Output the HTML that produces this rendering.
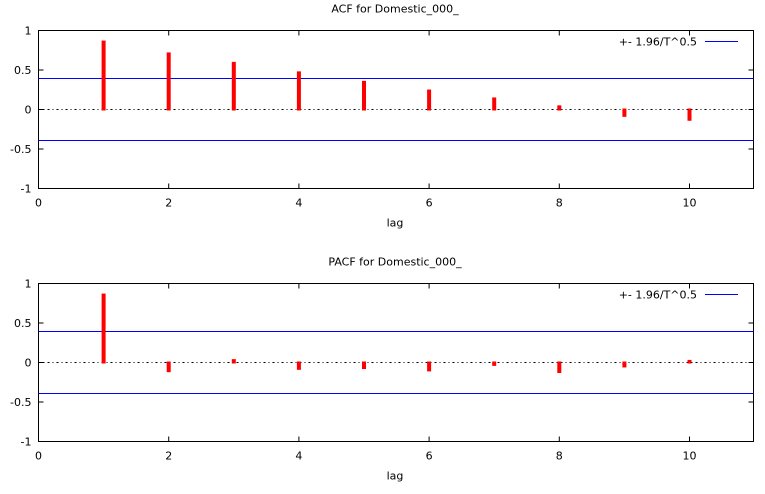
<!DOCTYPE html>
<html><head><meta charset="utf-8"><style>
body{margin:0;background:#fff}
svg text{font-family:"DejaVu Sans","Liberation Sans",sans-serif;font-size:11px;fill:#000}
</style></head><body>
<svg id="c" width="765" height="489" xmlns="http://www.w3.org/2000/svg"></svg>
<script>
const lags=[1,2,3,4,5,6,7,8,9,10];
const acfValues=[0.86,0.71,0.59,0.47,0.35,0.24,0.14,0.04,-0.08,-0.13];
const pacfValues=[0.86,-0.11,0.03,-0.08,-0.07,-0.1,-0.03,-0.12,-0.05,0.02];
const band=0.392;
const xTicks=[0,2,4,6,8,10];
const yTicks=[1,0.5,0,-0.5,-1];
const yTickLabels=["1","0.5","0","-0.5","-1"];
const svg=document.getElementById('c');
const NS="http://www.w3.org/2000/svg";
function el(t,a,txt){const e=document.createElementNS(NS,t);for(const k in a)e.setAttribute(k,a[k]);if(txt!==undefined)e.textContent=txt;svg.appendChild(e);return e;}
const L=38.5,R=753.5,xs=65.1;
function X(v){return L+v*xs;}
function panel(top,bottom,vals,title,prefix){
  const Y=v=>(top+bottom)/2-v*(bottom-top)/2;
  let e;
  e=el('text',{x:395,y:top-18,'text-anchor':'middle'},title);
  
  
  e=el('rect',{x:L,y:top,width:R-L,height:bottom-top,fill:'none',stroke:'#000','stroke-width':1});
  
  
  yTicks.forEach((t,i)=>{
    el('line',{x1:L,x2:L+5,y1:Y(t),y2:Y(t),stroke:'#000'});
    el('line',{x1:R-5,x2:R,y1:Y(t),y2:Y(t),stroke:'#000'});
    e=el('text',{x:L-7,y:Y(t)+4,'text-anchor':'end'},yTickLabels[i]);
    
    
  });
  xTicks.forEach(t=>{
    el('line',{x1:X(t),x2:X(t),y1:top,y2:top+5,stroke:'#000'});
    el('line',{x1:X(t),x2:X(t),y1:bottom,y2:bottom-5,stroke:'#000'});
    e=el('text',{x:X(t),y:bottom+18,'text-anchor':'middle'},String(t));
    
    
  });
  e=el('text',{x:395,y:bottom+38,'text-anchor':'middle'},'lag');
  
  
  e=el('line',{x1:L,x2:R,y1:Y(0),y2:Y(0),stroke:'#000','stroke-dasharray':'2,3,1,3'});
  
  
  [band,-band].forEach(b=>{
    e=el('line',{x1:L,x2:R,y1:Y(b),y2:Y(b),stroke:'#0000ff'});
    
    
  });
  lags.forEach((l,i)=>{
    const v=vals[i];
    e=el('rect',{x:X(l)-2,y:Math.min(Y(v),Y(0))-1,width:4,height:Math.abs(Y(v)-Y(0))+2,fill:'#ff0000'});
    
    
  });
  e=el('text',{x:697,y:top+15,'text-anchor':'end'},'+- 1.96/T^0.5');
  
  
  e=el('line',{x1:705,x2:738,y1:top+11,y2:top+11,stroke:'#0000ff'});
  
  
}
panel(30.5,188.5,acfValues,'ACF for Domestic_000_','acf');
panel(283.5,441.5,pacfValues,'PACF for Domestic_000_','pacf');
</script>
</body></html>
